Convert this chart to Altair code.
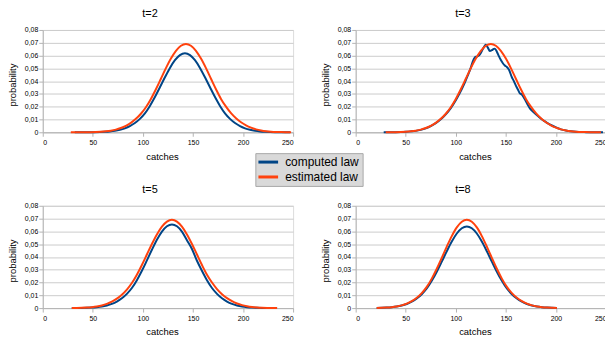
import altair as alt
import pandas as pd

SERIES = ["computed law", "estimated law"]
COLORS = ["#004586", "#ff420e"]
X_TICKS = [0, 50, 100, 150, 200, 250]
Y_TICKS = [0, 0.01, 0.02, 0.03, 0.04, 0.05, 0.06, 0.07, 0.08]
TITLES = ["t=2", "t=3", "t=5", "t=8"]

# ---- t=2 ----
t2_est_x = list(range(28, 249, 5))
t2_est_y = [0.0000, 0.00001, 0.00003, 0.00006, 0.00011, 0.00022, 0.00041, 0.00072, 0.00124, 0.00207,
            0.00331, 0.00504, 0.00738, 0.01049, 0.01449, 0.01960, 0.02608, 0.03367, 0.04188, 0.05016,
            0.05762, 0.06369, 0.06762, 0.06900, 0.06762, 0.06369, 0.05762, 0.05016, 0.04188, 0.03367,
            0.02608, 0.02000, 0.01490, 0.01090, 0.00780, 0.00540, 0.00360, 0.00230, 0.00140, 0.00080,
            0.00046, 0.00025, 0.00013, 0.00007, 0.00003]
t2_cmp_x = list(range(32, 248, 5))
t2_cmp_y = [0.0000, 0.00001, 0.00002, 0.00005, 0.00010, 0.00020, 0.00037, 0.00066, 0.00114, 0.00191,
            0.00309, 0.00481, 0.00722, 0.01049, 0.01481, 0.02061, 0.02752, 0.03517, 0.04300, 0.05035,
            0.05639, 0.06034, 0.06170, 0.06034, 0.05639, 0.05035, 0.04300, 0.03517, 0.02752, 0.02061,
            0.01481, 0.01049, 0.00722, 0.00481, 0.00309, 0.00191, 0.00114, 0.00066, 0.00037, 0.00020,
            0.00010, 0.00005, 0.00002, 0.00001]

# ---- t=3 ----
t3_est_x = list(range(30, 246, 5))
t3_est_y = [0.00003, 0.00006, 0.00011, 0.00022, 0.00041, 0.00072, 0.00124, 0.00207, 0.00331, 0.00504,
            0.00738, 0.01049, 0.01449, 0.01960, 0.02608, 0.03367, 0.04188, 0.05016, 0.05762, 0.06369,
            0.06762, 0.06900, 0.06762, 0.06369, 0.05762, 0.05016, 0.04188, 0.03367, 0.02608, 0.02000,
            0.01490, 0.01090, 0.00780, 0.00540, 0.00360, 0.00230, 0.00140, 0.00080, 0.00046, 0.00025,
            0.00013, 0.00007, 0.00003, 0.00001]
t3_cmp_x = [28, 35, 40, 45, 50, 55, 60, 65, 70, 75, 80, 85, 90, 95, 100, 103, 106, 109, 112, 115,
            117, 119, 121, 123, 125, 127, 129, 130, 132, 134, 136, 138, 139, 141, 143, 145, 147, 149,
            151, 153, 156, 158, 160, 162, 164, 166, 168, 170, 172, 174, 177, 180, 183, 186, 189, 192,
            196, 200, 205, 210, 215, 220, 230, 240, 247]
t3_cmp_y = [0.0000, 0.0001, 0.0001, 0.0002, 0.0004, 0.0007, 0.0011, 0.0019, 0.0031, 0.0048,
            0.0071, 0.0101, 0.0140, 0.0189, 0.0250, 0.0293, 0.0338, 0.0388, 0.0445, 0.0505,
            0.0555, 0.0585, 0.0592, 0.0600, 0.0620, 0.0650, 0.0678, 0.0685, 0.0662, 0.0636,
            0.0642, 0.0652, 0.0654, 0.0630, 0.0595, 0.0565, 0.0540, 0.0522, 0.0510, 0.0490,
            0.0430, 0.0400, 0.0365, 0.0335, 0.0305, 0.0295, 0.0270, 0.0243, 0.0213, 0.0187,
            0.0162, 0.0140, 0.0120, 0.0100, 0.0085, 0.0070, 0.0053, 0.0038, 0.0023, 0.0014,
            0.0008, 0.0004, 0.0001, 0.0000, 0.0000]

# ---- t=5 ----
t5_est_x = list(range(29, 235, 5))
t5_est_y = [0.00006, 0.00011, 0.00022, 0.00041, 0.00072, 0.00124, 0.00207, 0.00331, 0.00504, 0.00738,
            0.01049, 0.01449, 0.01960, 0.02608, 0.03367, 0.04188, 0.05016, 0.05762, 0.06369, 0.06762,
            0.06900, 0.06762, 0.06369, 0.05762, 0.05016, 0.04188, 0.03367, 0.02608, 0.02000, 0.01490,
            0.01090, 0.00780, 0.00540, 0.00360, 0.00230, 0.00140, 0.00080, 0.00046, 0.00025, 0.00013,
            0.00007, 0.00003]
t5_cmp_x = list(range(29, 235, 5))
t5_cmp_y = [0.00002, 0.00005, 0.00010, 0.00021, 0.00039, 0.00070, 0.00121, 0.00203, 0.00327, 0.00510,
            0.00765, 0.01112, 0.01570, 0.02184, 0.02917, 0.03728, 0.04558, 0.05337, 0.05978, 0.06396,
            0.06540, 0.06396, 0.05978, 0.05300, 0.04620, 0.03700, 0.02917, 0.02184, 0.01570, 0.01112,
            0.00765, 0.00510, 0.00327, 0.00203, 0.00121, 0.00070, 0.00039, 0.00021, 0.00010, 0.00005,
            0.00002, 0.00001]

# ---- t=8 ----
t8_est_x = list(range(21, 202, 5))
t8_est_y = [0.00011, 0.00022, 0.00041, 0.00074, 0.00128, 0.00214, 0.00345, 0.00538, 0.00807, 0.01173,
            0.01656, 0.02305, 0.03077, 0.03933, 0.04809, 0.05630, 0.06307, 0.06748, 0.06900, 0.06748,
            0.06307, 0.05630, 0.04809, 0.03933, 0.03077, 0.02305, 0.01656, 0.01173, 0.00807, 0.00538,
            0.00345, 0.00214, 0.00128, 0.00074, 0.00041, 0.00022, 0.00011]
t8_cmp_x = list(range(21, 202, 5))
t8_cmp_y = [0.00010, 0.00020, 0.00038, 0.00068, 0.00118, 0.00198, 0.00319, 0.00498, 0.00746, 0.01085,
            0.01531, 0.02131, 0.02845, 0.03637, 0.04447, 0.05206, 0.05831, 0.06240, 0.06380, 0.06240,
            0.05831, 0.05206, 0.04447, 0.03637, 0.02845, 0.02131, 0.01531, 0.01085, 0.00746, 0.00498,
            0.00319, 0.00198, 0.00118, 0.00068, 0.00038, 0.00020, 0.00010]

FONT = "Liberation Sans"
PW, PH = 252, 103

color_scale = alt.Scale(domain=SERIES, range=COLORS)
legend = alt.Legend(
    title=None, orient="none", legendX=214, legendY=124,
    fillColor="#d9d9d9", strokeColor="#a8a8a8", padding=3, rowPadding=3, columnPadding=0,
    labelFont=FONT, labelFontSize=12, labelColor="#000000", labelOffset=11,
    symbolType="M-2.2,0H2.2", symbolSize=81, symbolOffset=4, symbolStrokeWidth=3,
)

x_axis = alt.Axis(
    values=X_TICKS, format="d", grid=False, title="catches",
    labelFont=FONT, labelFontSize=7, labelColor="#000000", labelPadding=2,
    tickSize=4, tickColor="#b3b3b3", domainColor="#b3b3b3",
    titleFont=FONT, titleFontSize=9.5, titleFontWeight="normal", titleColor="#000000",
    titlePadding=6, titleX=120,
)
y_axis = alt.Axis(
    values=Y_TICKS, title="probability",
    labelExpr="datum.value == 0 ? '0' : replace(format(datum.value, '.2f'), '.', ',')",
    labelFont=FONT, labelFontSize=7, labelColor="#000000", labelPadding=1,
    tickSize=4, tickColor="#b3b3b3", domainColor="#b3b3b3",
    grid=True, gridColor="#cccccc",
    titleFont=FONT, titleFontSize=9.5, titleFontWeight="normal", titleColor="#000000",
    titlePadding=7, titleY=55,
)


def panel(title, cx, cy, ex, ey):
    df = pd.DataFrame({
        "catches": list(cx) + list(ex),
        "probability": list(cy) + list(ey),
        "series": [SERIES[0]] * len(cx) + [SERIES[1]] * len(ex),
    })
    return alt.Chart(df).mark_line(interpolate="monotone", strokeWidth=2).encode(
        x=alt.X("catches:Q", scale=alt.Scale(domain=[0, 250], nice=False), axis=x_axis),
        y=alt.Y("probability:Q", scale=alt.Scale(domain=[0, 0.08], nice=False), axis=y_axis),
        color=alt.Color("series:N", scale=color_scale, legend=legend),
    ).properties(
        width=PW, height=PH,
        title=alt.TitleParams(text=title, font=FONT, fontSize=11, fontWeight="normal",
                              color="#000000", anchor="middle", frame="group", dx=-18,
                              baseline="alphabetic", offset=-2),
    )


p1 = panel(TITLES[0], t2_cmp_x, t2_cmp_y, t2_est_x, t2_est_y)
p2 = panel(TITLES[1], t3_cmp_x, t3_cmp_y, t3_est_x, t3_est_y)
p3 = panel(TITLES[2], t5_cmp_x, t5_cmp_y, t5_est_x, t5_est_y)
p4 = panel(TITLES[3], t8_cmp_x, t8_cmp_y, t8_est_x, t8_est_y)

chart = alt.concat(
    p1, p2, p3, p4, columns=2, spacing={"row": 74, "column": 63}, bounds="flush"
).properties(
    padding={"left": -2, "top": -2, "right": -3, "bottom": 0}
).configure_view(strokeWidth=0).configure(background="#ffffff")

chart.save("out.html", embed_options={"renderer": "svg", "actions": False})
